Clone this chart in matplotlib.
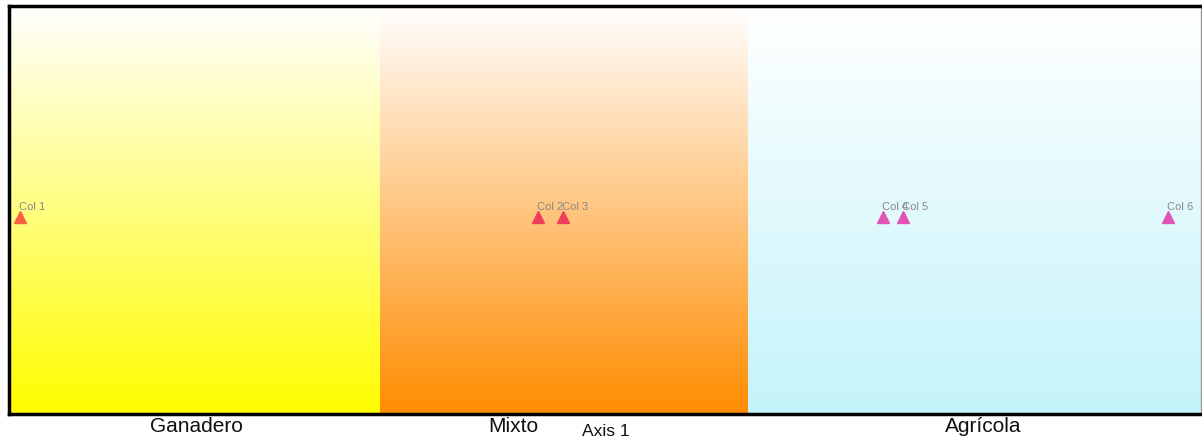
import numpy as np
import matplotlib
matplotlib.use("Agg")
import matplotlib.pyplot as plt
import matplotlib.transforms as mtransforms
from matplotlib.colors import to_rgb

# ---- data ----
points = ["Col 1", "Col 2", "Col 3", "Col 4", "Col 5", "Col 6"]
axis1 = [11, 529, 554, 874, 894, 1159]
axis2 = [-0.035, -0.035, -0.035, -0.035, -0.035, -0.035]
point_colors = ["#F4623E", "#F03C5C", "#F03C5C", "#E055B6", "#E055B6", "#E055B6"]

groups = ["Ganadero", "Mixto", "Agrícola"]
group_edges = [0, 371, 739, 1192]
group_label_x = [187, 504, 974]
group_colors = ["#FFFC00", "#FF8C00", "#C4F4FA"]

xlim = (0, 1192)
ylim = (-1, 1)

fig = plt.figure(figsize=(12.02, 4.38), dpi=100)
ax = fig.add_axes([9 / 1202, 24 / 438, 1192 / 1202, 408 / 438])
ax.set_xlim(*xlim)
ax.set_ylim(*ylim)

# gradient backgrounds
n = 256
t = np.linspace(0, 1, n)[:, None]  # 0 at top -> 1 at bottom
for i, c in enumerate(group_colors):
    rgb = np.array(to_rgb(c))
    img = (1 - t)[..., None] * np.ones(3) + t[..., None] * rgb
    img = np.repeat(img, 2, axis=1)
    ax.imshow(img, extent=[group_edges[i], group_edges[i + 1], ylim[0], ylim[1]],
              origin="upper", aspect="auto", zorder=0, interpolation="bilinear")

ax.set_xlim(*xlim)
ax.set_ylim(*ylim)

# points and labels
for name, x, y, c in zip(points, axis1, axis2, point_colors):
    ax.plot(x, y, marker="^", color=c, markersize=8, linestyle="none", zorder=3)
    ax.annotate(name, (x, y), xytext=(-0.5, 3.5), textcoords="offset points",
                ha="left", va="bottom", fontsize=8, color="#888888",
                family="Liberation Sans", zorder=4)

# group labels under axis
trans = mtransforms.blended_transform_factory(ax.transData, ax.transAxes)
for g, gx in zip(groups, group_label_x):
    ax.text(gx, -0.03, g, transform=trans, ha="center", va="center",
            fontsize=15, family="Liberation Sans", color="#111111")

ax.text(597, -0.042, "Axis 1", transform=trans, ha="center", va="center",
        fontsize=12.5, family="Liberation Sans", color="#111111")

ax.set_xticks([])
ax.set_yticks([])
for s in ["left", "top", "bottom"]:
    ax.spines[s].set_linewidth(2.5)
    ax.spines[s].set_color("black")
ax.spines["right"].set_linewidth(1)
ax.spines["right"].set_color("#999999")

fig.savefig("out.png", dpi=100)
